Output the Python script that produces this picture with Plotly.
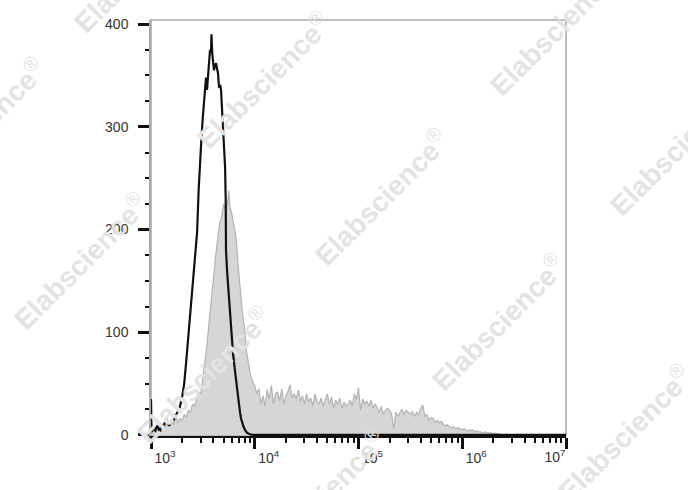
import plotly.graph_objects as go

# ---- data (log10 of fluorescence intensity, event counts) ----
black_log_x = [3.00, 3.005, 3.02, 3.04, 3.06, 3.087, 3.10, 3.116, 3.135, 3.154, 3.175, 3.193, 3.22,
               3.25, 3.275, 3.30, 3.32, 3.338, 3.356, 3.376, 3.39, 3.405, 3.425, 3.444, 3.46,
               3.473, 3.488, 3.50, 3.515, 3.53, 3.54, 3.55, 3.559, 3.569, 3.578, 3.583, 3.59,
               3.598, 3.607, 3.617, 3.627, 3.636, 3.646, 3.656, 3.665, 3.675, 3.685, 3.694,
               3.704, 3.714, 3.72, 3.723, 3.733, 3.743, 3.752, 3.762, 3.776, 3.79, 3.81, 3.829,
               3.845, 3.858, 3.868, 3.878, 3.892, 3.906, 3.926, 3.95, 3.974, 4.2, 5.0, 6.0, 7.0]
black_counts = [35, 3, 6, 4, 9, 3, 10, 8, 12, 14, 9, 13, 15,
                21, 26, 37, 50, 70, 92, 119, 135, 155, 178, 197, 240,
                270, 292, 310, 330, 348, 336, 352, 360, 375, 372, 390, 372,
                360, 355, 360, 362, 357, 352, 338, 341, 336, 318, 300,
                282, 261, 230, 180, 160, 145, 130, 115, 98, 80, 62, 44,
                32, 22, 16, 12, 8, 5, 2, 1, 0, 0, 0, 0, 0]

gray_log_x = [3.00, 3.02, 3.04, 3.06, 3.08, 3.10, 3.12, 3.14, 3.16, 3.18, 3.20, 3.22, 3.24, 3.26,
              3.28, 3.30, 3.32, 3.34, 3.36, 3.38, 3.40, 3.42, 3.44, 3.46, 3.48, 3.50, 3.52, 3.54,
              3.56, 3.58, 3.60, 3.62, 3.64, 3.66, 3.68, 3.70, 3.72, 3.74, 3.75, 3.76, 3.78, 3.80,
              3.82, 3.84, 3.86, 3.88, 3.90, 3.92, 3.94, 3.96, 3.98, 4.00, 4.02, 4.04, 4.06, 4.08,
              4.10, 4.12, 4.14, 4.16, 4.18, 4.20, 4.22, 4.24, 4.26, 4.28, 4.30, 4.32, 4.34, 4.36,
              4.38, 4.40, 4.42, 4.44, 4.46, 4.48, 4.50, 4.52, 4.54, 4.56, 4.58, 4.60, 4.62, 4.64,
              4.66, 4.68, 4.70, 4.72, 4.74, 4.76, 4.78, 4.80, 4.82, 4.84, 4.86, 4.88, 4.90, 4.92,
              4.94, 4.96, 4.98, 5.00, 5.02, 5.04, 5.06, 5.08, 5.10, 5.12, 5.14, 5.16, 5.18, 5.20,
              5.22, 5.24, 5.26, 5.28, 5.30, 5.32, 5.34, 5.36, 5.38, 5.40, 5.42, 5.44, 5.46, 5.48,
              5.50, 5.52, 5.54, 5.56, 5.58, 5.60, 5.62, 5.64, 5.66, 5.68, 5.70, 5.72, 5.74, 5.76,
              5.78, 5.80, 5.82, 5.84, 5.86, 5.88, 5.90, 5.92, 5.94, 5.96, 5.98, 6.00, 6.02, 6.04,
              6.06, 6.08, 6.10, 6.12, 6.14, 6.16, 6.18, 6.20, 6.22, 6.24, 6.26, 6.28, 6.30, 6.32,
              6.34, 6.36, 6.38, 6.50, 7.00]
gray_counts = [0, 4, 8, 3, 10, 6, 12, 7, 14, 9, 15, 10, 18, 12,
               16, 14, 20, 17, 24, 22, 30, 28, 36, 42, 40, 55, 70, 88,
               110, 128, 150, 172, 190, 205, 212, 225, 218, 228, 238, 222, 215, 205,
               192, 165, 140, 120, 105, 82, 70, 58, 52, 48, 40, 45, 30, 38,
               28, 44, 35, 48, 30, 40, 42, 33, 45, 30, 38, 42, 49, 36,
               40, 35, 44, 33, 38, 30, 40, 32, 36, 28, 40, 33, 30, 36,
               28, 34, 40, 30, 37, 26, 34, 30, 36, 26, 32, 28, 30, 34,
               28, 40, 35, 46, 24, 35, 30, 33, 28, 34, 26, 30, 27, 22,
               28, 20, 24, 26, 24, 20, 6, 22, 18, 22, 25, 20, 24, 22,
               20, 23, 18, 22, 20, 26, 29, 18, 20, 14, 17, 16, 12, 14,
               12, 13, 10, 9, 10, 8, 7, 8, 6, 7, 6, 5, 6, 4,
               5, 4, 5, 3, 4, 3, 3, 2, 3, 2, 2, 2, 1, 2,
               1, 1, 0, 0, 0]

y_tick_vals = [0, 100, 200, 300, 400]
x_tick_exps = [3, 4, 5, 6]
x_last_exp = 7
watermark_text = "<b>Elabscience</b><sup>®</sup>"
watermark_centers_px = [(140, -36), (-22, 126), (263, 80), (556, 27), (80, 261), (381, 197),
                        (676, 147), (203, 375), (498, 322), (624, 433), (319, 497)]

# ---- figure ----
L, R, T, B = 151, 122, 20, 54
W, H = 688, 490
PW, PH = W - L - R, H - T - B
tick_font = dict(family="Liberation Sans, Arial", size=14, color="#333333")

fig = go.Figure()
fig.add_trace(go.Scatter(
    x=[10 ** v for v in gray_log_x], y=gray_counts, mode="lines",
    line=dict(color="#b3b3b3", width=1.2), fill="tozeroy", fillcolor="#d6d6d6",
    hoverinfo="skip", showlegend=False))
fig.add_trace(go.Scatter(
    x=[10 ** v for v in black_log_x], y=black_counts, mode="lines",
    line=dict(color="#111111", width=2.2), hoverinfo="skip", showlegend=False))

for (px, py) in watermark_centers_px:
    fig.add_annotation(
        text=watermark_text, xref="paper", yref="paper",
        x=(px - L) / PW, y=(H - B - py) / PH, xanchor="center", yanchor="middle",
        textangle=-45, showarrow=False,
        font=dict(family="Liberation Sans, Arial", size=28, color="#e3e3e3"))

# frame (top/right gray border)
fig.add_shape(type="rect", xref="paper", yref="paper", x0=0, y0=0, x1=1, y1=1,
              line=dict(color="#a8a8a8", width=1.5), layer="below")

fig.update_layout(
    width=W, height=H, margin=dict(l=L, r=R, t=T, b=B, autoexpand=False),
    paper_bgcolor="white", plot_bgcolor="white",
    font=tick_font,
    xaxis=dict(
        type="log", range=[3, 7], showgrid=False, zeroline=False,
        showline=True, linecolor="#111111", linewidth=2,
        tickvals=[10 ** e for e in x_tick_exps + [x_last_exp]],
        ticktext=[f"10<sup>{e}</sup>" for e in x_tick_exps] + [""],
        ticks="outside", ticklen=11, tickwidth=3, tickcolor="#111111",
        ticklabelshift=14, ticklabelstandoff=-3,
        minor=dict(ticks="outside", ticklen=5, tickwidth=2, tickcolor="#111111", dtick="D1"),
    ),
    xaxis2=dict(
        type="log", range=[3, 7], overlaying="x", side="bottom", showgrid=False,
        zeroline=False, showline=False, ticks="outside", ticklen=11, tickcolor="rgba(0,0,0,0)",
        tickvals=[10 ** x_last_exp], ticktext=[f"10<sup>{x_last_exp}</sup>"],
        ticklabelshift=-11, ticklabelstandoff=-3, tickfont=tick_font,
    ),
    yaxis=dict(
        range=[-1, 404], showgrid=False, zeroline=False,
        showline=True, linecolor="#a8a8a8", linewidth=1.5,
        tickvals=y_tick_vals, ticks="outside", ticklen=11, tickwidth=3, tickcolor="#111111",
        ticklabelstandoff=7,
        minor=dict(ticks="outside", ticklen=4, tickwidth=2, tickcolor="#111111", dtick=25),
    ),
)
# invisible anchor trace so xaxis2 is drawn
fig.add_trace(go.Scatter(x=[10 ** x_last_exp], y=[0], xaxis="x2", mode="markers",
                         marker=dict(opacity=0), hoverinfo="skip", showlegend=False))

fig.write_html("out.html", config={"displayModeBar": False},
               post_script="document.body.style.margin='0';")
